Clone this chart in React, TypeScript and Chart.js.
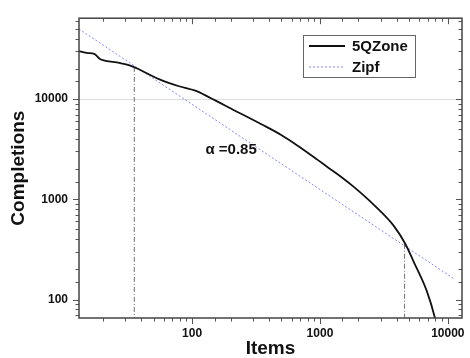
import React, { useEffect, useRef } from 'react';
import { Chart, registerables } from 'chart.js';

Chart.register(...registerables);

// 5QZone measured curve
const zoneItems = [12.5, 15, 17.3, 18.9, 20, 27, 32.4, 38.6, 55, 79, 106, 135, 217, 348, 498, 670, 959, 1148, 1450, 1840, 2640, 3780, 4645, 5400, 6840, 7930, 8600];
const zoneCompletions = [30500, 28800, 28000, 25200, 24400, 22900, 21700, 19700, 15800, 13400, 12100, 10450, 7640, 5600, 4380, 3420, 2470, 2090, 1690, 1330, 880, 543, 360, 239, 122, 65.5, 40];

// Zipf fit (alpha = 0.85) endpoints
const zipfItems = [13, 11250];
const zipfCompletions = [50000, 160];

// vertical dash-dot markers (intersection points)
const markerItems = [35.3, 4590];
const markerCompletions = [20900, 360];

const xTickLabels = [100, 1000, 10000];
const yTickLabels = [100, 1000, 10000];
const gridValues = [10000];

const alphaLabel = 'α =0.85';
const alphaItems = 127;
const alphaCompletions = 3130;

const seriesNames = ['5QZone', 'Zipf'];

const X_MIN = 13.04, X_MAX = 12910;
const Y_MIN = 65.4, Y_MAX = 63970;

const FONT = '"Liberation Sans", Arial, Helvetica, sans-serif';

export default function App() {
  const ref = useRef<HTMLCanvasElement | null>(null);

  useEffect(() => {
    if (!ref.current) return;
    const pts = (xs: number[], ys: number[]) => xs.map((x, i) => ({ x, y: ys[i] }));

    const markerDatasets = markerItems.map((mx, i) => ({
      label: 'marker' + i,
      data: [{ x: mx, y: markerCompletions[i] }, { x: mx, y: 1 }],
      borderColor: '#707070',
      borderWidth: 1,
      borderDash: [5, 2, 1, 2],
      pointRadius: 0,
      fill: false,
    }));

    const framePlugin = {
      id: 'frame',
      afterDraw(chart: any) {
        const { ctx, chartArea: a, scales } = chart;
        const xs = scales.x, ys = scales.y;
        ctx.save();
        // ticks
        ctx.strokeStyle = '#555';
        ctx.lineWidth = 1;
        const isMajor = (v: number) => Math.abs(Math.log10(v) - Math.round(Math.log10(v))) < 1e-6;
        xs.ticks.forEach((t: any) => {
          const v = t.value;
          if (v <= X_MIN + 1e-6 || v >= X_MAX - 1e-6) return;
          const p = Math.round(xs.getPixelForValue(v)) + 0.5;
          const L = isMajor(v) ? 6 : 3.5;
          ctx.beginPath();
          ctx.moveTo(p, a.bottom); ctx.lineTo(p, a.bottom + L);
          ctx.moveTo(p, a.top); ctx.lineTo(p, a.top + L);
          ctx.stroke();
        });
        ys.ticks.forEach((t: any) => {
          const v = t.value;
          if (v <= Y_MIN + 1e-6 || v >= Y_MAX - 1e-6) return;
          const p = Math.round(ys.getPixelForValue(v)) + 0.5;
          const L = isMajor(v) ? 6 : 3.5;
          ctx.beginPath();
          ctx.moveTo(a.left, p); ctx.lineTo(a.left - L, p);
          ctx.moveTo(a.right, p); ctx.lineTo(a.right - L, p);
          ctx.stroke();
        });
        // frame
        ctx.strokeStyle = '#444';
        ctx.lineWidth = 1.5;
        ctx.strokeRect(a.left, a.top, a.right - a.left, a.bottom - a.top);

        // alpha annotation
        ctx.fillStyle = '#111';
        ctx.font = 'bold 15px ' + FONT;
        ctx.textAlign = 'left';
        ctx.textBaseline = 'middle';
        ctx.fillText(alphaLabel, xs.getPixelForValue(alphaItems), ys.getPixelForValue(alphaCompletions));

        // legend
        const bx = 303, by = 35, bw = 112, bh = 42;
        ctx.fillStyle = '#fff';
        ctx.fillRect(bx, by, bw, bh);
        ctx.strokeStyle = '#666';
        ctx.lineWidth = 1;
        ctx.strokeRect(bx + 0.5, by + 0.5, bw, bh);
        const rows = [
          { y: by + 11, color: '#111', dash: [] as number[], w: 1.8 },
          { y: by + 32, color: '#8585ff', dash: [2, 2], w: 1 },
        ];
        rows.forEach((r, i) => {
          ctx.beginPath();
          ctx.setLineDash(r.dash);
          ctx.strokeStyle = r.color;
          ctx.lineWidth = r.w;
          ctx.moveTo(bx + 6, r.y); ctx.lineTo(bx + 42, r.y);
          ctx.stroke();
          ctx.setLineDash([]);
          ctx.fillStyle = '#111';
          ctx.font = 'bold 15px ' + FONT;
          ctx.textBaseline = 'middle';
          ctx.fillText(seriesNames[i], bx + 49, r.y + 1);
        });
        ctx.restore();
      },
    };

    const chart = new Chart(ref.current, {
      type: 'line',
      data: {
        datasets: [
          {
            label: seriesNames[0],
            data: pts(zoneItems, zoneCompletions),
            borderColor: '#111',
            borderWidth: 1.8,
            pointRadius: 0,
            fill: false,
            cubicInterpolationMode: 'monotone',
          },
          {
            label: seriesNames[1],
            data: pts(zipfItems, zipfCompletions),
            borderColor: '#8585ff',
            borderWidth: 1,
            borderDash: [2, 2],
            pointRadius: 0,
            fill: false,
          },
          ...markerDatasets,
        ] as any,
      },
      options: {
        animation: false,
        responsive: false,
        maintainAspectRatio: false,
        parsing: false as any,
        layout: { padding: { top: 10, right: 4, left: 0, bottom: 0 } },
        plugins: {
          legend: { display: false },
          tooltip: { enabled: false },
        },
        scales: {
          x: {
            type: 'logarithmic',
            min: X_MIN,
            max: X_MAX,
            position: 'bottom',
            border: { display: false },
            grid: { display: false, drawTicks: false, tickLength: 0 },
            ticks: {
              autoSkip: false,
              maxRotation: 0,
              padding: 8,
              color: '#111',
              font: { family: FONT, size: 12, weight: 'bold' },
              callback: (v: any) => (xTickLabels.includes(Number(v)) ? String(v) : ''),
            },
            title: {
              display: true,
              text: 'Items',
              color: '#111',
              font: { family: FONT, size: 19, weight: 'bold' },
              padding: { top: 0, bottom: -2.5 },
            },
            afterFit: (s: any) => { s.height = 40; },
          },
          y: {
            type: 'logarithmic',
            min: Y_MIN,
            max: Y_MAX,
            position: 'left',
            border: { display: false },
            grid: {
              display: true,
              drawTicks: false,
              tickLength: 0,
              lineWidth: 1,
              color: (c: any) => (c.tick && gridValues.includes(c.tick.value) ? '#dcdcdc' : 'rgba(0,0,0,0)'),
            },
            ticks: {
              autoSkip: false,
              padding: 11,
              color: '#111',
              font: { family: FONT, size: 12, weight: 'bold' },
              callback: (v: any) => (yTickLabels.includes(Number(v)) ? String(v) : ''),
            },
            title: {
              display: true,
              text: 'Completions',
              color: '#111',
              font: { family: FONT, size: 19, weight: 'bold' },
              padding: { top: 7, bottom: 0 },
            },
            afterFit: (s: any) => { s.width = 79; },
          },
        },
      } as any,
      plugins: [framePlugin],
    });
    return () => chart.destroy();
  }, []);

  return (
    <div style={{ position: 'absolute', left: 0, top: 0, width: 470, height: 358, background: '#fff' }}>
      <canvas ref={ref} width={470} height={358} style={{ display: 'block', width: 470, height: 358 }} />
    </div>
  );
}
